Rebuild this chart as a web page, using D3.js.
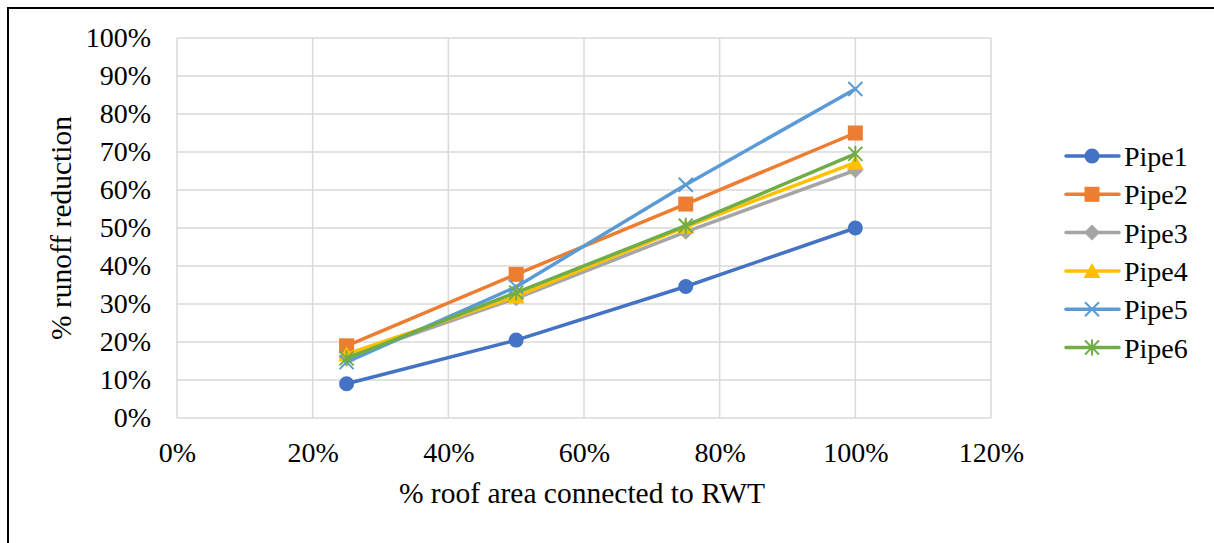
<!DOCTYPE html>
<html>
<head>
<meta charset="utf-8">
<script src="https://cdn.jsdelivr.net/npm/d3@7/dist/d3.min.js"></script>
<style>
  html, body { margin: 0; padding: 0; background: #fff; }
  svg { display: block; }
  text { font-family: "Liberation Serif", "Times New Roman", serif; fill: #000; }
</style>
</head>
<body>
<svg id="chart" width="1214" height="543"></svg>
<script>
// Share of roof area connected to rainwater tanks (x) and resulting runoff reduction (y)
const roofShare = [0.25, 0.50, 0.75, 1.00];
const pipe1 = [0.090, 0.205, 0.346, 0.500];
const pipe2 = [0.190, 0.378, 0.563, 0.750];
const pipe3 = [0.160, 0.315, 0.490, 0.652];
const pipe4 = [0.168, 0.320, 0.503, 0.672];
const pipe5 = [0.147, 0.345, 0.614, 0.866];
const pipe6 = [0.157, 0.330, 0.506, 0.695];
const seriesNames = ["Pipe1", "Pipe2", "Pipe3", "Pipe4", "Pipe5", "Pipe6"];
const xTicks = [0, 0.2, 0.4, 0.6, 0.8, 1.0, 1.2];
const yTicks = [0, 0.1, 0.2, 0.3, 0.4, 0.5, 0.6, 0.7, 0.8, 0.9, 1.0];

const seriesValues = [pipe1, pipe2, pipe3, pipe4, pipe5, pipe6];
const colors = ["#4472C4", "#ED7D31", "#A5A5A5", "#FFC000", "#5B9BD5", "#70AD47"];
const shapes = ["circle", "square", "diamond", "triangle", "x", "star"];

const svg = d3.select("#chart");

// outer frame (only top and left edges fall inside the canvas)
svg.append("rect")
  .attr("x", 8).attr("y", 8).attr("width", 1230).attr("height", 560)
  .attr("fill", "none").attr("stroke", "#000").attr("stroke-width", 2);

const plot = { left: 177, right: 991, top: 38, bottom: 418 };
const x = d3.scaleLinear().domain([0, 1.2]).range([plot.left, plot.right]);
const y = d3.scaleLinear().domain([0, 1.0]).range([plot.bottom, plot.top]);

// grid
const grid = svg.append("g").attr("stroke", "#D9D9D9").attr("stroke-width", 1.5);
grid.selectAll("line.h").data(yTicks).join("line")
  .attr("x1", plot.left).attr("x2", plot.right)
  .attr("y1", d => y(d)).attr("y2", d => y(d));
grid.selectAll("line.v").data(xTicks).join("line")
  .attr("y1", plot.top).attr("y2", plot.bottom)
  .attr("x1", d => x(d)).attr("x2", d => x(d));

const pct = d3.format(".0%");

// axes (tick labels only)
const yAxis = svg.append("g").attr("transform", `translate(${plot.left},0)`)
  .call(d3.axisLeft(y).tickValues(yTicks).tickFormat(pct).tickSize(0).tickPadding(26));
const xAxis = svg.append("g").attr("transform", `translate(0,${plot.bottom})`)
  .call(d3.axisBottom(x).tickValues(xTicks).tickFormat(pct).tickSize(0).tickPadding(24));
[yAxis, xAxis].forEach(a => {
  a.select(".domain").remove();
  a.selectAll("text").style("font-family", "'Liberation Serif', serif")
    .style("font-size", "28px").attr("fill", "#000");
});

// axis titles
svg.append("text")
  .attr("x", (plot.left + plot.right) / 2 - 2).attr("y", 503)
  .attr("text-anchor", "middle").style("font-size", "29.5px")
  .text("% roof area connected to RWT");
svg.append("text")
  .attr("transform", `translate(71,${(plot.top + plot.bottom) / 2}) rotate(-90)`)
  .attr("text-anchor", "middle").style("font-size", "29.5px")
  .text("% runoff reduction");

// marker drawing
function drawMarker(g, shape, color) {
  if (shape === "circle") {
    g.append("circle").attr("r", 7.5).attr("fill", color);
  } else if (shape === "square") {
    g.append("rect").attr("x", -7.5).attr("y", -7.5).attr("width", 15).attr("height", 15).attr("fill", color);
  } else if (shape === "diamond") {
    g.append("path").attr("d", "M0,-8L8,0L0,8L-8,0Z").attr("fill", color);
  } else if (shape === "triangle") {
    g.append("path").attr("d", "M0,-8L8.5,7L-8.5,7Z").attr("fill", color);
  } else if (shape === "x") {
    g.append("path").attr("d", "M-7,-7L7,7M-7,7L7,-7")
      .attr("stroke", color).attr("stroke-width", 2).attr("fill", "none");
  } else if (shape === "star") {
    g.append("path").attr("d", "M-7,-7L7,7M-7,7L7,-7M0,-8L0,8")
      .attr("stroke", color).attr("stroke-width", 2).attr("fill", "none");
  }
}

const line = d3.line().x(d => x(d[0])).y(d => y(d[1]));

seriesValues.forEach((vals, i) => {
  const pts = roofShare.map((r, k) => [r, vals[k]]);
  svg.append("path").datum(pts)
    .attr("d", line).attr("fill", "none")
    .attr("stroke", colors[i]).attr("stroke-width", 3.5)
    .attr("stroke-linejoin", "round").attr("stroke-linecap", "round");
  pts.forEach(p => {
    const g = svg.append("g").attr("transform", `translate(${x(p[0])},${y(p[1])})`);
    drawMarker(g, shapes[i], colors[i]);
  });
});

// legend
const legend = svg.append("g");
seriesNames.forEach((name, i) => {
  const ly = 156 + i * 38.3;
  const g = legend.append("g").attr("transform", `translate(0,${ly})`);
  g.append("line").attr("x1", 1066).attr("x2", 1119).attr("y1", 0).attr("y2", 0)
    .attr("stroke", colors[i]).attr("stroke-width", 3.5).attr("stroke-linecap", "round");
  const m = g.append("g").attr("transform", "translate(1092,0)");
  drawMarker(m, shapes[i], colors[i]);
  g.append("text").attr("x", 1124).attr("y", 10).style("font-size", "28px").text(name);
});
</script>
</body>
</html>
